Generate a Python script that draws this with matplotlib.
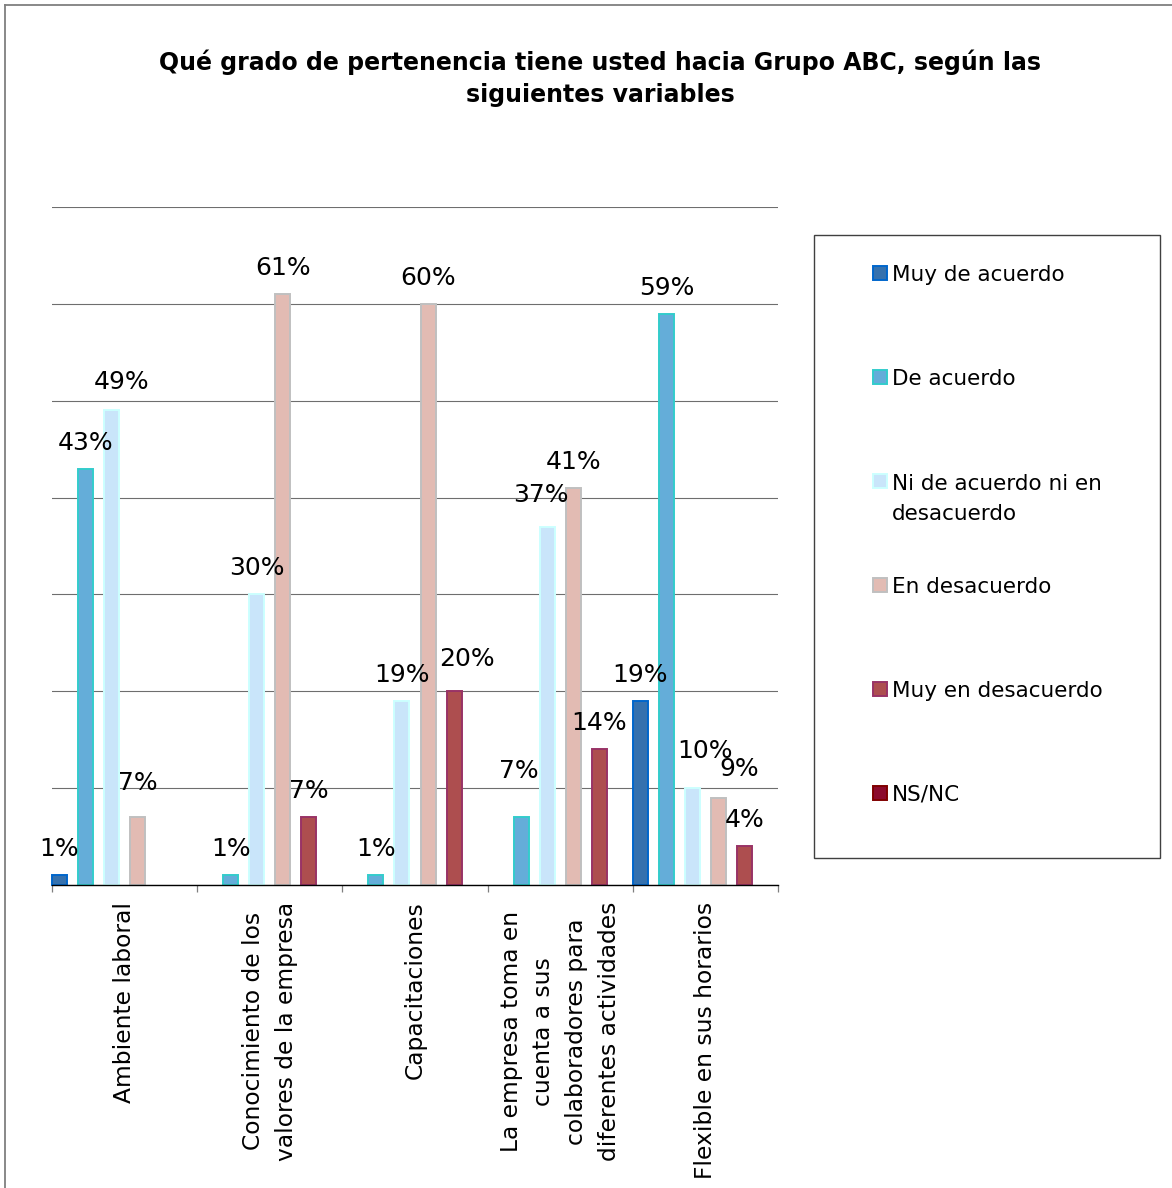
import matplotlib
matplotlib.use("Agg")
import matplotlib.pyplot as plt
from matplotlib.patches import Rectangle
from matplotlib.lines import Line2D

plt.rcParams['font.family'] = ['DejaVu Sans']

# ---- data -------------------------------------------------------------
title = ("Qué grado de pertenencia tiene usted hacia Grupo ABC, según las\n"
         "siguientes variables")

categories = [
    "Ambiente laboral",
    "Conocimiento de los\nvalores de la empresa",
    "Capacitaciones",
    "La empresa toma en\ncuenta a sus\ncolaboradores para\ndiferentes actividades",
    "Flexible en sus horarios",
]

series_names = [
    "Muy de acuerdo",
    "De acuerdo",
    "Ni de acuerdo ni en\ndesacuerdo",
    "En desacuerdo",
    "Muy en desacuerdo",
    "NS/NC",
]

muy_de_acuerdo = [1, 0, 0, 0, 19]
de_acuerdo = [43, 1, 1, 7, 59]
ni_de_acuerdo_ni_en_desacuerdo = [49, 30, 19, 37, 10]
en_desacuerdo = [7, 61, 60, 41, 9]
muy_en_desacuerdo = [0, 7, 20, 14, 4]
ns_nc = [0, 0, 0, 0, 0]

series_values = [muy_de_acuerdo, de_acuerdo, ni_de_acuerdo_ni_en_desacuerdo,
                 en_desacuerdo, muy_en_desacuerdo, ns_nc]

# ---- styling ----------------------------------------------------------
face_colors = ['#3571AE', '#64ADD9', '#C9E5FA', '#E2BBB3', '#AD4E4F', '#8C0A2C']
edge_colors = ['#0066CC', '#33CCCC', '#CCFFFF', '#C0C0C0', '#993366', '#800000']

# label nudges (dx, dy) in pixels for labels moved off their default spot
label_nudge = {
    (0, 2): (10, 2),
    (0, 3): (0, 8),
    (2, 4): (13, 6),
    (3, 1): (-2, 20),
    (3, 2): (-6, 6),
    (4, 2): (13, 11),
    (4, 3): (21, 3),
}

W, H = 1172, 1188
DPI = 100
fig = plt.figure(figsize=(W / DPI, H / DPI), dpi=DPI)
fig.patch.set_facecolor('white')


def fx(x):
    return x / W


def fy(y):
    return 1 - y / H


# outer frame (left and top edges)
fig.add_artist(Line2D([fx(5), fx(5)], [fy(5), 0], transform=fig.transFigure,
                      color='#7F7F7F', lw=1.3))
fig.add_artist(Line2D([fx(5), 1], [fy(5), fy(5)], transform=fig.transFigure,
                      color='#7F7F7F', lw=1.3))

# baseline of the last title line
fig.text(fx(600), fy(102), title, ha='center', va='baseline',
         fontsize=17, fontweight='bold', color='black', linespacing=1.43)

ax = fig.add_axes([fx(52), fy(885), (778 - 52) / W, (885 - 207) / H])
ax.set_facecolor('none')

n_series = len(series_values)
bar_w = 0.103
step = (1 - bar_w) / (n_series - 1)

for j, vals in enumerate(series_values):
    xs, hs, idx = [], [], []
    for i, v in enumerate(vals):
        if v > 0:
            xs.append(i + bar_w / 2 + j * step)
            hs.append(v)
            idx.append(i)
    if not xs:
        continue
    ax.bar(xs, hs, width=bar_w, color=face_colors[j], edgecolor=edge_colors[j],
           linewidth=1.4, zorder=3, clip_on=False)
    for x, v, i in zip(xs, hs, idx):
        dx, dy = label_nudge.get((i, j), (0, 0))
        ax.annotate(f"{v}%", (x, v), xytext=(dx * 0.72, (26 + dy) * 0.72),
                    textcoords='offset points', ha='center', va='center',
                    fontsize=18, color='black', zorder=5)

ax.set_xlim(0, len(categories))
ax.set_ylim(0, 70)
ax.set_yticks(range(0, 71, 10))
ax.yaxis.grid(True, color='#6E6E6E', lw=0.8)
ax.set_axisbelow(True)
ax.tick_params(axis='y', left=False, labelleft=False)
for s in ('left', 'right', 'top'):
    ax.spines[s].set_visible(False)
ax.spines['bottom'].set_color('black')
ax.spines['bottom'].set_linewidth(1.0)
ax.spines['bottom'].set_zorder(4)

ax.set_xticks(range(len(categories) + 1))
ax.set_xticklabels([])
ax.tick_params(axis='x', which='major', direction='out', length=5,
               width=0.9, color='#7F7F7F')
ax.set_xticks([i + 0.5 for i in range(len(categories))], minor=True)
ax.set_xticklabels(categories, minor=True, rotation=90, ha='center', va='top',
                   multialignment='center', fontsize=16.8, linespacing=1.54)
ax.tick_params(axis='x', which='minor', length=0, pad=12)

# legend box
fig.add_artist(Rectangle((fx(814), fy(858)), (1160 - 814) / W, (858 - 235) / H,
                         transform=fig.transFigure, facecolor='white',
                         edgecolor='#404040', lw=1.0))
legend_rows = [273, 377, 481, 585, 689, 793]
legend_line_gap = 31
for j, (name, yc) in enumerate(zip(series_names, legend_rows)):
    fig.add_artist(Rectangle((fx(873), fy(yc + 7)), 14 / W, 14 / H,
                             transform=fig.transFigure,
                             facecolor=face_colors[j], edgecolor=edge_colors[j],
                             lw=1.4))
    extra = (name.count('\n')) * legend_line_gap
    fig.text(fx(892), fy(yc + 8 + extra), name, ha='left', va='baseline',
             fontsize=15.5, color='black', linespacing=1.61)

fig.savefig('out.png', dpi=DPI, facecolor='white')
